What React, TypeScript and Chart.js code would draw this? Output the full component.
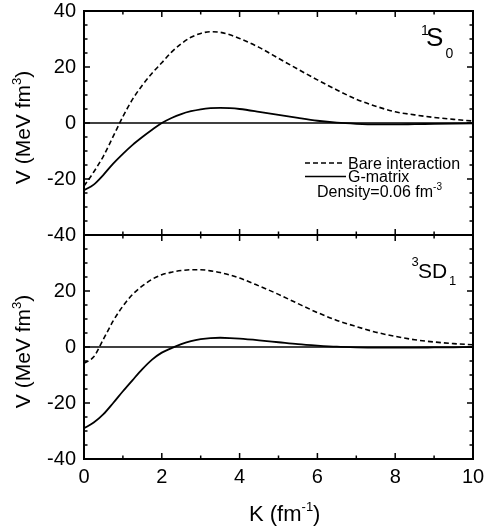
import React, { useEffect, useRef } from "react";
import { Chart, registerables } from "chart.js";

Chart.register(...registerables);

const FONT = "'Liberation Sans', Arial, Helvetica, sans-serif";

// ---- data ----
const kValues = [0, 0.25, 0.5, 0.75, 1, 1.25, 1.5, 1.75, 2, 2.25, 2.5, 2.75, 3, 3.25, 3.5, 3.75, 4, 4.5, 5, 5.5, 6, 6.5, 7, 7.5, 8, 8.5, 9, 9.5, 10];

const bare1S0 = [-22.5, -17.5, -11.8, -4.8, 2.3, 8.5, 13.5, 17.8, 21.5, 25.3, 28.3, 30.6, 32.0, 32.6, 32.4, 31.5, 30.2, 27, 23.1, 19.2, 15.4, 11.8, 8.5, 6, 4, 2.9, 2, 1.3, 0.7];
const gmat1S0 = [-24, -22, -18.5, -14.5, -11, -7.8, -5, -2.4, 0, 1.8, 3.2, 4.2, 4.9, 5.3, 5.4, 5.3, 5.0, 4.0, 2.9, 1.8, 0.8, 0.1, -0.3, -0.5, -0.5, -0.4, -0.3, -0.2, -0.1];

const bare3SD1 = [-5.8, -3.5, 2.8, 9.3, 14.6, 18.8, 21.8, 24.2, 25.8, 26.7, 27.3, 27.6, 27.6, 27.2, 26.6, 25.7, 24.6, 21.8, 18.8, 15.5, 12.3, 9.5, 7.3, 5.3, 3.8, 2.6, 1.8, 1.2, 0.8];
const gmat3SD1 = [-29, -27, -24, -20, -15.8, -11.8, -7.9, -4.5, -2, -0.4, 1.0, 2.1, 2.8, 3.2, 3.3, 3.2, 3.0, 2.4, 1.7, 1.0, 0.5, 0.1, -0.1, -0.2, -0.2, -0.2, -0.15, -0.1, -0.05];

const yTickLabels = [-40, -20, 0, 20, 40];
const xTickLabels = [0, 2, 4, 6, 8, 10];

const seriesNames = ["Bare interaction", "G-matrix"];
const densityLabel = ["Density=0.06 fm", "-3"];

// ---- layout ----
const W = 485;
const TOP_H = 250;
const BOT_TOP = 224;
const BOT_H = 531 - BOT_TOP;
const DASH = [5, 3];

type Run = { t: string; size: number; dy?: number };

function runsWidth(ctx: CanvasRenderingContext2D, runs: Run[]) {
  let w = 0;
  for (const r of runs) {
    ctx.font = `${r.size}px ${FONT}`;
    w += ctx.measureText(r.t).width;
  }
  return w;
}
function drawRuns(ctx: CanvasRenderingContext2D, runs: Run[], x: number, y: number) {
  let cx = x;
  for (const r of runs) {
    ctx.font = `${r.size}px ${FONT}`;
    ctx.fillText(r.t, cx, y + (r.dy || 0));
    cx += ctx.measureText(r.t).width;
  }
}

const framePlugin = {
  id: "frame",
  afterDatasetsDraw(chart: any, _args: any, opts: any) {
    const ctx: CanvasRenderingContext2D = chart.ctx;
    const { left, right, top, bottom } = chart.chartArea;
    const xs = chart.scales.x;
    const ys = chart.scales.y;
    const offY = opts.offsetY || 0;
    ctx.save();
    ctx.strokeStyle = "#000";
    ctx.fillStyle = "#000";
    // zero line
    ctx.lineWidth = 1.5;
    ctx.setLineDash([]);
    const z = ys.getPixelForValue(0);
    ctx.beginPath();
    ctx.moveTo(left, z);
    ctx.lineTo(right, z);
    ctx.stroke();
    // ticks
    ctx.lineWidth = 1.5;
    ctx.beginPath();
    for (let v = 0; v <= 10; v += 1) {
      const px = xs.getPixelForValue(v);
      const len = v % 2 === 0 ? 6 : 3.5;
      ctx.moveTo(px, top);
      ctx.lineTo(px, top + len);
      ctx.moveTo(px, bottom);
      ctx.lineTo(px, bottom - len);
    }
    for (let v = -40; v <= 40; v += 5) {
      const py = ys.getPixelForValue(v);
      const len = v % 20 === 0 ? 6 : 3.5;
      ctx.moveTo(left, py);
      ctx.lineTo(left + len, py);
      ctx.moveTo(right, py);
      ctx.lineTo(right - len, py);
    }
    ctx.stroke();
    // border
    ctx.lineWidth = 2;
    ctx.strokeRect(left, top, right - left, bottom - top);

    // y title
    ctx.textAlign = "left";
    ctx.textBaseline = "alphabetic";
    const yRuns: Run[] = [
      { t: "V (MeV fm", size: 21 },
      { t: "3", size: 13, dy: -9 },
      { t: ")", size: 21 },
    ];
    const wy = runsWidth(ctx, yRuns);
    const cy = (top + bottom) / 2 + 4.5;
    ctx.save();
    ctx.translate(30, cy);
    ctx.rotate(-Math.PI / 2);
    drawRuns(ctx, yRuns, -wy / 2, 0);
    ctx.restore();

    if (opts.panel === "top") {
      // panel label 1S0
      drawRuns(ctx, [{ t: "1", size: 14 }], 421, 35);
      drawRuns(ctx, [{ t: "S", size: 26 }], 426, 46);
      drawRuns(ctx, [{ t: "0", size: 14 }], 445.5, 58);
      // legend
      const ds = chart.data.datasets;
      ctx.lineWidth = 1.6;
      ctx.setLineDash(ds[0].borderDash || []);
      ctx.beginPath();
      ctx.moveTo(305, 163);
      ctx.lineTo(345, 163);
      ctx.stroke();
      ctx.setLineDash([]);
      ctx.beginPath();
      ctx.moveTo(305, 176.5);
      ctx.lineTo(346, 176.5);
      ctx.stroke();
      drawRuns(ctx, [{ t: ds[0].label, size: 16 }], 348, 168.5);
      drawRuns(ctx, [{ t: ds[1].label, size: 16 }], 348, 182);
      drawRuns(ctx, [
        { t: densityLabel[0], size: 16 },
        { t: densityLabel[1], size: 10, dy: -7 },
      ], 317, 197);
    } else {
      // panel label 3SD1
      drawRuns(ctx, [{ t: "3", size: 13 }], 411.5, 266 - offY);
      drawRuns(ctx, [{ t: "SD", size: 21 }], 418, 278 - offY);
      drawRuns(ctx, [{ t: "1", size: 13 }], 449, 285 - offY);
      // x title
      drawRuns(ctx, [
        { t: "K (fm", size: 22 },
        { t: "-1", size: 13, dy: -10 },
        { t: ")", size: 22 },
      ], 249, 521 - offY);
    }
    ctx.restore();
  },
};

function makeDatasets(bare: number[], gmat: number[]) {
  return [
    {
      label: seriesNames[0],
      data: kValues.map((k, i) => ({ x: k, y: bare[i] })),
      borderColor: "#000",
      borderWidth: 1.6,
      borderDash: DASH,
      pointRadius: 0,
      fill: false,
      cubicInterpolationMode: "monotone" as const,
    },
    {
      label: seriesNames[1],
      data: kValues.map((k, i) => ({ x: k, y: gmat[i] })),
      borderColor: "#000",
      borderWidth: 1.8,
      pointRadius: 0,
      fill: false,
      cubicInterpolationMode: "monotone" as const,
    },
  ];
}

function noPad(s: any) {
  s.paddingTop = 0;
  s.paddingBottom = 0;
  s.paddingLeft = 0;
  s.paddingRight = 0;
}

function yScale(hideTop: boolean) {
  return {
    type: "linear" as const,
    min: -40,
    max: 40,
    afterFit: (s: any) => {
      s.width = 84;
      noPad(s);
    },
    afterBuildTicks: (s: any) => {
      s.ticks = yTickLabels.map((v) => ({ value: v }));
    },
    grid: { display: false, drawTicks: false },
    border: { display: false },
    ticks: {
      color: "#000",
      font: { family: FONT, size: 20 },
      padding: 8,
      callback: (v: any) => (hideTop && v === 40 ? "" : String(v)),
    },
  };
}

export default function App() {
  const topRef = useRef<HTMLCanvasElement>(null);
  const botRef = useRef<HTMLCanvasElement>(null);

  useEffect(() => {
    const top = new Chart(topRef.current!, {
      type: "line",
      data: { datasets: makeDatasets(bare1S0, gmat1S0) as any },
      options: {
        animation: false,
        responsive: false,
        devicePixelRatio: 1,
        layout: { padding: { left: 0, top: 11, right: 12, bottom: 15 } },
        plugins: {
          legend: { display: false },
          tooltip: { enabled: false },
          frame: { panel: "top", offsetY: 0 },
        } as any,
        scales: {
          x: { type: "linear", min: 0, max: 10, display: false, afterFit: noPad },
          y: yScale(false) as any,
        },
      },
      plugins: [framePlugin],
    });
    const bot = new Chart(botRef.current!, {
      type: "line",
      data: { datasets: makeDatasets(bare3SD1, gmat3SD1) as any },
      options: {
        animation: false,
        responsive: false,
        devicePixelRatio: 1,
        layout: { padding: { left: 0, top: 11, right: 12, bottom: 0 } },
        plugins: {
          legend: { display: false },
          tooltip: { enabled: false },
          frame: { panel: "bottom", offsetY: BOT_TOP },
        } as any,
        scales: {
          x: {
            type: "linear",
            min: 0,
            max: 10,
            afterFit: (s: any) => {
              s.height = 72;
              noPad(s);
            },
            afterBuildTicks: (s: any) => {
              s.ticks = xTickLabels.map((v) => ({ value: v }));
            },
            grid: { display: false, drawTicks: false },
            border: { display: false },
            ticks: {
              color: "#000",
              font: { family: FONT, size: 20 },
              padding: 6,
              maxRotation: 0,
              autoSkip: false,
            },
          },
          y: yScale(true) as any,
        },
      },
      plugins: [framePlugin],
    });
    return () => {
      top.destroy();
      bot.destroy();
    };
  }, []);

  return (
    <div style={{ position: "fixed", left: 0, top: 0, width: W, height: 531, background: "#fff" }}>
      <canvas ref={topRef} width={W} height={TOP_H} style={{ position: "absolute", left: 0, top: 0 }} />
      <canvas ref={botRef} width={W} height={BOT_H} style={{ position: "absolute", left: 0, top: BOT_TOP }} />
    </div>
  );
}
